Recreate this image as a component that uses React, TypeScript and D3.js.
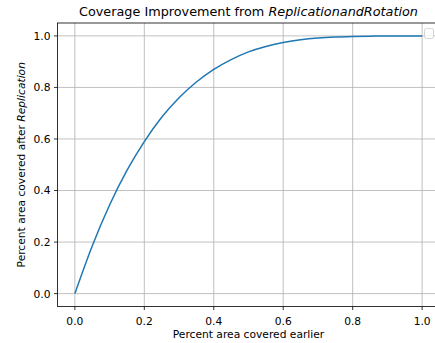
import React from "react";
import * as d3 from "d3";

const xValues = [0, 0.05, 0.1, 0.15, 0.2, 0.25, 0.3, 0.35, 0.4, 0.45, 0.5, 0.55, 0.6, 0.65, 0.7, 0.75, 0.8, 0.85, 0.9, 0.95, 1.0];
const yValues = [0, 0.185, 0.344, 0.478, 0.59, 0.684, 0.76, 0.821, 0.87, 0.908, 0.938, 0.959, 0.974, 0.985, 0.992, 0.996, 0.998, 0.999, 1.0, 1.0, 1.0];
const xTicks = [0, 0.2, 0.4, 0.6, 0.8, 1.0];
const yTicks = [0, 0.2, 0.4, 0.6, 0.8, 1.0];

const W = 435;
const H = 343;
const left = 57.5;
const right = 439.5;
const top = 23;
const bottom = 306.5;
const font = "DejaVu Sans, sans-serif";
const fs = 10.7;

export default function App() {
  const x = d3.scaleLinear().domain([-0.05, 1.05]).range([left, right]);
  const y = d3.scaleLinear().domain([-0.05, 1.05]).range([bottom, top]);
  const line = d3
    .line<number>()
    .x((_, i) => x(xValues[i]))
    .y((d) => y(d))
    .curve(d3.curveMonotoneX);
  const cx = (left + right) / 2;
  const cy = (top + bottom) / 2;
  return (
    <svg
      width={W}
      height={H}
      style={{ position: "absolute", left: 0, top: 0, background: "#fff" }}
      fontFamily={font}
    >
      <defs>
        <clipPath id="plot">
          <rect x={left} y={top} width={right - left} height={bottom - top} />
        </clipPath>
      </defs>
      {xTicks.map((t) => (
        <line key={"gx" + t} x1={x(t)} x2={x(t)} y1={top} y2={bottom} stroke="#b0b0b0" strokeWidth={0.8} />
      ))}
      {yTicks.map((t) => (
        <line key={"gy" + t} x1={left} x2={right} y1={y(t)} y2={y(t)} stroke="#b0b0b0" strokeWidth={0.8} />
      ))}
      <path d={line(yValues) || ""} fill="none" stroke="#1f77b4" strokeWidth={1.5} clipPath="url(#plot)" />
      <rect x={left} y={top} width={right - left} height={bottom - top} fill="none" stroke="#000" strokeWidth={0.8} />
      {xTicks.map((t) => (
        <g key={"tx" + t}>
          <line x1={x(t)} x2={x(t)} y1={bottom} y2={bottom + 3.5} stroke="#000" strokeWidth={0.8} />
          <text x={x(t)} y={324.5} fontSize={fs} textAnchor="middle" fill="#000">
            {t.toFixed(1)}
          </text>
        </g>
      ))}
      {yTicks.map((t) => (
        <g key={"ty" + t}>
          <line x1={left - 3.5} x2={left} y1={y(t)} y2={y(t)} stroke="#000" strokeWidth={0.8} />
          <text x={50.5} y={y(t) + 3.9} fontSize={fs} textAnchor="end" fill="#000">
            {t.toFixed(1)}
          </text>
        </g>
      ))}
      <rect x={424.5} y={28.5} width={9} height={10} rx={2} fill="#fff" fillOpacity={0.8} stroke="#cccccc" strokeWidth={0.8} />
      <text x={cx} y={16.3} fontSize={12.8} textAnchor="middle" fill="#000">
        Coverage Improvement from <tspan fontStyle="italic">ReplicationandRotation</tspan>
      </text>
      <text x={cx} y={337.5} fontSize={fs} textAnchor="middle" fill="#000">
        Percent area covered earlier
      </text>
      <text
        transform={`translate(25,${cy}) rotate(-90)`}
        fontSize={fs}
        textAnchor="middle"
        fill="#000"
      >
        Percent area covered after <tspan fontStyle="italic">Replication</tspan>
      </text>
    </svg>
  );
}
